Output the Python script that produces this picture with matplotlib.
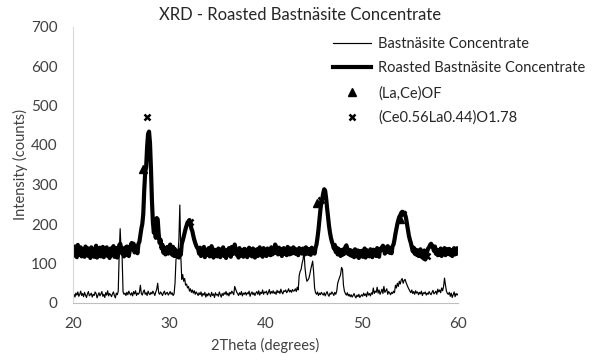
import numpy as np
import matplotlib
matplotlib.use("Agg")
import matplotlib.pyplot as plt

plt.rcParams['font.family'] = ['Lato', 'DejaVu Sans']

# 2Theta scan, 0.1 degree steps from 20 to 60
two_theta = np.round(np.arange(200, 601) / 10.0, 1)

# Bastnasite Concentrate (thin line), one row per degree
bastnasite = [
    18, 22, 15, 25, 20, 28, 17, 22, 30, 19,
    24, 16, 27, 20, 14, 23, 29, 18, 21, 25,
    15, 22, 19, 28, 24, 13, 20, 26, 18, 23,
    29, 17, 22, 14, 26, 20, 31, 18, 24, 21,
    16, 23, 28, 19, 13, 25, 21, 30, 125, 188,
    130, 120, 28, 22, 25, 19, 27, 21, 30, 24,
    20, 26, 18, 29, 23, 31, 19, 25, 22, 27,
    45, 24, 20, 28, 33, 22, 26, 19, 30, 24,
    21, 27, 23, 30, 25, 19, 28, 35, 50, 26,
    22, 28, 24, 19, 26, 30, 21, 25, 27, 20,
    24, 29, 22, 26, 19, 23, 50, 110, 120, 125,
    160, 248, 120, 60, 72, 55, 62, 45, 48, 38,
    42, 30, 36, 27, 33, 25, 31, 22, 28, 24,
    19, 26, 21, 28, 17, 24, 20, 27, 15, 23,
    18, 25, 21, 16, 27, 19, 23, 14, 26, 20,
    22, 17, 28, 21, 15, 24, 19, 26, 22, 29,
    20, 25, 18, 27, 23, 30, 26, 21, 42, 35,
    28, 24, 19, 26, 21, 29, 18, 25, 22, 27,
    20, 26, 23, 30, 17, 24, 28, 21, 26, 19,
    25, 29, 22, 31, 20, 27, 24, 33, 22, 28,
    26, 30, 21, 27, 34, 23, 29, 25, 31, 24,
    28, 22, 32, 26, 30, 24, 35, 27, 23, 31,
    29, 33, 26, 30, 36, 28, 32, 27, 34, 30,
    31, 36, 29, 40, 33, 70, 80, 85, 100, 110,
    132, 90, 68, 55, 58, 62, 72, 85, 95, 106,
    78, 38, 26, 22, 28, 19, 25, 21, 27, 23,
    20, 26, 18, 24, 29, 21, 17, 25, 22, 28,
    24, 19, 27, 22, 30, 50, 58, 65, 72, 90,
    85, 45, 30, 24, 20, 26, 18, 22, 16, 21,
    15, 19, 24, 17, 13, 20, 16, 22, 14, 18,
    21, 17, 25, 19, 23, 16, 28, 20, 24, 18,
    26, 22, 38, 24, 30, 27, 40, 25, 33, 22,
    28, 35, 24, 42, 27, 31, 36, 22, 29, 25,
    21, 27, 24, 30, 26, 45, 38, 50, 42, 55,
    48, 58, 62, 50, 57, 60, 52, 46, 40, 35,
    30, 26, 33, 24, 29, 22, 31, 25, 28, 21,
    27, 23, 30, 19, 26, 24, 28, 20, 25, 22,
    29, 24, 21, 27, 32, 23, 26, 30, 22, 35,
    28, 33, 26, 38, 31, 42, 63, 45, 30, 24,
    22, 27, 17, 25, 14, 21, 28, 16, 24, 20,
    23,
]

# Roasted Bastnasite Concentrate (thick line)
roasted = [
    138, 120, 143, 126, 116, 147, 128, 122, 141, 118,
    134, 124, 117, 143, 122, 139, 119, 133, 114, 141,
    124, 137, 117, 131, 145, 115, 134, 121, 140, 118,
    130, 142, 116, 136, 122, 141, 119, 133, 114, 138,
    121, 134, 144, 117, 129, 139, 115, 131, 146, 150,
    141, 125, 135, 118, 140, 122, 143, 130, 119, 132,
    146, 152, 136, 150, 128, 144, 133, 126, 150, 155,
    172, 188, 200, 225, 285, 330, 345, 395, 428, 434,
    405, 340, 260, 205, 178, 192, 165, 215, 212, 175,
    152, 160, 138, 147, 127, 140, 123, 136, 142, 125,
    138, 148, 128, 122, 142, 119, 136, 124, 118, 132,
    115, 134, 122, 150, 158, 168, 178, 188, 196, 204,
    206, 210, 202, 188, 182, 170, 160, 152, 145, 140,
    137, 125, 140, 119, 133, 123, 142, 116, 135, 122,
    131, 139, 118, 137, 144, 123, 115, 135, 121, 133,
    118, 138, 124, 116, 136, 123, 141, 119, 132, 114,
    134, 121, 139, 125, 117, 142, 124, 136, 148, 137,
    122, 133, 115, 139, 120, 134, 124, 117, 137, 123,
    135, 116, 131, 140, 121, 133, 118, 138, 124, 115,
    129, 136, 119, 132, 141, 121, 134, 117, 139, 125,
    133, 119, 138, 124, 134, 121, 141, 123, 136, 126,
    148, 142, 129, 123, 140, 125, 137, 119, 133, 139,
    124, 136, 121, 142, 127, 123, 138, 125, 135, 141,
    126, 137, 124, 134, 121, 139, 127, 136, 125, 138,
    134, 123, 141, 126, 137, 124, 136, 122, 140, 127,
    135, 125, 140, 148, 165, 185, 210, 235, 255, 265,
    278, 288, 284, 265, 240, 218, 195, 178, 165, 155,
    148, 138, 147, 129, 140, 123, 137, 126, 119, 134,
    122, 136, 125, 142, 146, 138, 124, 134, 121, 133,
    119, 131, 116, 136, 123, 118, 133, 114, 130, 121,
    132, 117, 129, 138, 115, 134, 121, 131, 118, 136,
    123, 116, 135, 122, 133, 119, 139, 124, 117, 137,
    134, 141, 145, 142, 125, 138, 129, 144, 139, 127,
    139, 126, 144, 148, 160, 175, 188, 200, 210, 218,
    222, 228, 231, 226, 229, 224, 215, 200, 185, 170,
    160, 152, 142, 131, 140, 125, 135, 122, 133, 119,
    130, 136, 117, 129, 113, 133, 110, 116, 131, 138,
    141, 147, 150, 146, 140, 132, 143, 125, 135, 121,
    133, 123, 138, 119, 134, 125, 139, 121, 132, 136,
    124, 137, 122, 134, 119, 133, 139, 123, 136, 125,
    138,
]

# phase markers
laceof_x = [27.3, 45.4, 54.0]
laceof_y = [338, 252, 212]
ceo_x = [27.65, 32.15, 45.8, 54.3, 56.8]
ceo_y = [471, 206, 262, 225, 118]

fig = plt.figure(figsize=(5.92, 3.6), dpi=100)
ax = fig.add_axes([73 / 592, 57 / 360, 385 / 592, 276.5 / 360])

ax.plot(two_theta, bastnasite, color='black', lw=0.85, label='Bastnäsite Concentrate')
ax.plot(two_theta, roasted, color='black', lw=3.0, label='Roasted Bastnäsite Concentrate')
ax.plot(laceof_x, laceof_y, ls='none', marker='^', color='black', ms=6, label='(La,Ce)OF')
ax.plot(ceo_x, ceo_y, ls='none', marker='x', color='black', ms=4.5, mew=1.8,
        label='(Ce0.56La0.44)O1.78')

ax.set_xlim(20, 60)
ax.set_ylim(0, 700)
ax.set_xticks([20, 30, 40, 50, 60])
ax.set_yticks(range(0, 701, 100))
ax.tick_params(length=0, labelsize=11, colors='#404040')
ax.tick_params(axis='y', pad=11)
ax.tick_params(axis='x', pad=10)

for s in ['top', 'right']:
    ax.spines[s].set_visible(False)
ax.spines['left'].set_color('#d9d9d9')
ax.spines['bottom'].set_color('#bfbfbf')

ax.set_xlabel('2Theta (degrees)', fontsize=10.5, color='#404040', labelpad=5)
ax.set_ylabel('Intensity (counts)', fontsize=10.5, color='#404040', labelpad=2)
fig.text(300 / 592, 1 - 15 / 360, 'XRD - Roasted Bastnäsite Concentrate',
         ha='center', va='center', fontsize=12, color='#262626')

fig.legend(loc='upper left', bbox_to_anchor=(333 / 592, 1 - 37 / 360),
           frameon=False, fontsize=10.5, handlelength=2.6, handletextpad=0.5,
           labelspacing=0.72, borderpad=0, borderaxespad=0, labelcolor='#262626')

fig.savefig('out.png', dpi=100)
